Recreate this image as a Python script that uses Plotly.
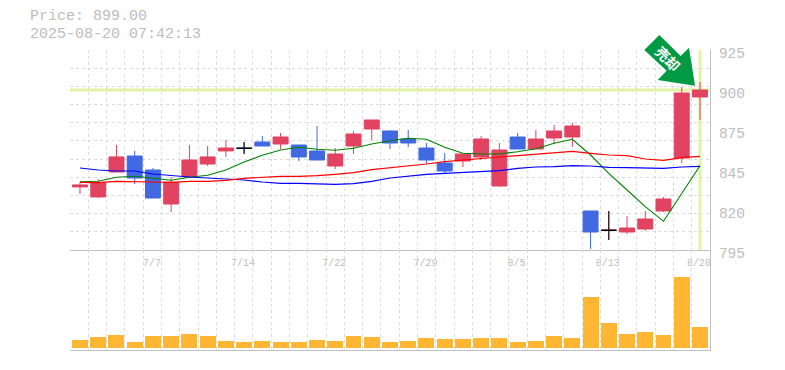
import plotly.graph_objects as go

dates = ["7/1","7/2","7/3","7/4","7/7","7/8","7/9","7/10","7/11","7/14","7/15","7/16","7/17","7/18",
         "7/22","7/23","7/24","7/25","7/28","7/29","7/30","7/31","8/1","8/4","8/5","8/6","8/7","8/8",
         "8/12","8/13","8/14","8/15","8/18","8/19","8/20"]
tick_dates = ["7/7","7/14","7/22","7/29","8/5","8/13","8/20"]

opens  = [836.0,829.5,845.7,856.1,847.0,824.9,842.5,850.9,859.4,861.1,865.2,863.9,863.25,859.35,
          849.6,862.6,873.65,872.35,867.15,861.3,851.55,852.85,855.45,836.6,868.45,860.65,867.8,868.45,
          820.35,807.8,806.7,808.65,820.35,854.8,894.45]
closes = [837.3,838.7,855.5,841.8,828.8,839.0,853.5,855.5,861.3,861.1,862.6,868.45,855.45,853.5,
          857.4,870.4,879.5,864.55,864.55,853.5,846.35,857.4,867.15,860.0,860.65,867.15,872.35,875.6,
          806.7,807.8,809.3,815.15,828.15,897.05,899.0]
highs  = [839.2,841.0,863.3,859.4,848.3,842.5,863.3,862.6,866.5,865.2,869.1,871.05,863.25,875.6,
          861.3,872.35,879.5,873.0,873.0,864.55,858.05,857.4,869.1,864.55,871.05,873.0,876.25,877.55,
          820.35,820.35,817.1,820.35,829.45,900.95,904.2]
lows   = [831.4,828.8,845.7,837.9,828.8,819.7,842.5,849.6,855.5,857.4,862.6,860.65,852.85,853.5,
          847.65,857.4,866.5,860.65,861.95,850.9,844.4,848.95,853.5,835.95,860.65,860.65,863.9,861.95,
          795.65,801.5,805.4,807.35,819.7,851.55,879.5]

line_blue  = [848.3,847.0,846.35,846.35,844.4,843.3,842.45,841.8,841.15,840.5,839.2,838.35,838.35,838.1,
              837.7,838.1,839.65,841.8,843.1,844.2,844.85,845.5,846.15,846.55,848.1,848.95,849.15,849.8,
              849.6,848.75,848.5,848.3,848.1,848.95,849.4]
line_red   = [839.0,838.75,839.65,839.65,839.2,839.0,839.65,839.65,840.3,841.6,842.25,842.9,842.9,843.3,
              844.2,845.25,847.2,848.3,849.6,850.9,852.4,853.5,854.6,855.45,856.3,857.4,858.5,859.15,
              857.85,856.75,856.3,854.15,853.3,855.0,855.9]
line_green = [839.4,839.65,842.25,842.9,841.6,840.3,842.25,843.55,847.0,852.2,856.55,860.0,861.75,860.45,
              859.8,861.1,863.9,866.05,867.6,866.95,861.75,857.85,857.4,857.4,858.9,860.85,864.35,866.95,
              856.75,844.85,834.0,823.15,813.65,831.85,849.8]
volume = [16,22,26,12,24,24,28,24,14,12,14,12,12,16,14,24,22,12,14,20,18,18,20,20,12,14,24,20,
          102,50,28,32,26,142,42]
volume = [v * 1000 for v in volume]

last_price = 899.0
price_ticks = [925, 899, 873, 847, 821, 795]
price_labels = ["925", "900", "875", "845", "820", "795"]
title_lines = ["Price: 899.00", "2025-08-20 07:42:13"]
arrow_text = "売却"

W, H = 785, 370
L, R, T, B = 70, 710, 50, 350
x = list(range(len(dates)))
tick_idx = [dates.index(d) for d in tick_dates]

GRID = "#dcdcdc"
AXIS = "#c0c0c0"
TXT = "#bdbdbd"
FONT = "Liberation Mono"
X0, X1 = -0.548, 34.55


def px(v):
    return (v - L) / (R - L)


def py(v):
    return 1 - (v - T) / (B - T)


fig = go.Figure()
for vals, col, w in [(line_green, "#008000", 1.1), (line_blue, "#0000ff", 1.2), (line_red, "#ff0000", 1.2)]:
    fig.add_trace(go.Scatter(x=x, y=vals, mode="lines", line=dict(color=col, width=w),
                             hoverinfo="skip", xaxis="x", yaxis="y"))

fig.add_trace(go.Candlestick(
    x=x, open=opens, high=highs, low=lows, close=closes, whiskerwidth=0,
    increasing=dict(line=dict(color="#e14361", width=1), fillcolor="#e14361"),
    decreasing=dict(line=dict(color="#4169e1", width=1), fillcolor="#4169e1"),
    xaxis="x", yaxis="y"))

# Doji sessions drawn as black crosses
doji = [i for i in x if opens[i] == closes[i]]
fig.add_trace(go.Candlestick(
    x=doji, open=[opens[i] for i in doji], high=[highs[i] for i in doji],
    low=[lows[i] for i in doji], close=[closes[i] for i in doji], whiskerwidth=0,
    increasing=dict(line=dict(color="#000000", width=1), fillcolor="#000000"),
    decreasing=dict(line=dict(color="#000000", width=1), fillcolor="#000000"),
    xaxis="x", yaxis="y"))

fig.add_trace(go.Bar(x=x, y=volume, marker=dict(color="#ffb733", line=dict(width=0)),
                     width=0.875, xaxis="x2", yaxis="y2"))

minor_x = dict(tick0=X0, dtick=(X1 - X0) / 35, showgrid=True, gridcolor=GRID, griddash="3px,3px",
               gridwidth=1, ticklen=0)
common_x = dict(range=[X0, X1], showgrid=False, zeroline=False, fixedrange=True, minor=minor_x)

fig.update_layout(
    width=W, height=H, autosize=False, showlegend=False, plot_bgcolor="#ffffff", paper_bgcolor="#ffffff",
    margin=dict(l=L, r=W - R, t=T, b=H - B, pad=0, autoexpand=False), bargap=0,
    boxmode="overlay", boxgap=0.18, boxgroupgap=0,
    font=dict(family=FONT, color=TXT),
    xaxis=dict(domain=[0, 1], anchor="y", tickmode="array", tickvals=tick_idx, ticktext=tick_dates,
               ticks="", tickfont=dict(size=10, color=TXT, family=FONT), ticklabelstandoff=3, ticklabelshift=-1,
               rangeslider=dict(visible=False), showline=True, linecolor=AXIS, linewidth=1, **common_x),
    xaxis2=dict(domain=[0, 1], anchor="y2", showticklabels=False, ticks="", tickmode="array", tickvals=tick_idx,
                showline=True, linecolor=AXIS, linewidth=1, **common_x),
    yaxis=dict(domain=[1 / 3, 1], anchor="x", side="right", range=[795, 925], tickmode="array",
               tickvals=price_ticks, ticktext=price_labels, ticks="", showgrid=False, zeroline=False,
               tickfont=dict(size=14.5, color=TXT, family=FONT), ticklabelshift=3, ticklabelstandoff=5,
               showline=True, linecolor=AXIS, linewidth=1, fixedrange=True,
               minor=dict(tick0=795, dtick=130 / 11, showgrid=True, gridcolor=GRID, griddash="3px,3px",
                          gridwidth=1, ticklen=0)),
    yaxis2=dict(domain=[0, 1 / 3], anchor="x2", side="right", range=[-4000, 196000], showticklabels=False,
                ticks="", showgrid=False, zeroline=False, showline=True, linecolor=AXIS, linewidth=1,
                fixedrange=True),
    shapes=[
        dict(type="line", xref="x", yref="y", x0=X0, x1=X1, y0=last_price, y1=last_price,
             line=dict(color="#e2f2a6", width=3), layer="below"),
        dict(type="line", xref="x", yref="y", x0=34, x1=34, y0=795, y1=925,
             line=dict(color="#e2f2a6", width=3), layer="below"),
    ],
    annotations=[
        dict(xref="paper", yref="paper", x=px(28), y=py(17), xanchor="left", yanchor="middle", showarrow=False,
             text=title_lines[0], font=dict(size=15, color=TXT, family=FONT)),
        dict(xref="paper", yref="paper", x=px(28), y=py(34), xanchor="left", yanchor="middle", showarrow=False,
             text=title_lines[1], font=dict(size=15, color=TXT, family=FONT)),
        dict(xref="paper", yref="paper", x=px(667.5), y=py(58.3), xanchor="center", yanchor="middle", showarrow=False,
             text="<b>" + arrow_text + "</b>", textangle=45,
             font=dict(size=14, color="#ffffff", family="Noto Sans CJK JP")),
    ],
)

arrow = [(659.3, 35), (680.7, 56), (689, 47.7), (695, 85.7), (657.7, 80), (666.7, 70.7), (644.3, 50)]
path = "M " + " L ".join(f"{px(a):.4f} {py(b):.4f}" for a, b in arrow) + " Z"
fig.add_shape(type="path", xref="paper", yref="paper", path=path, fillcolor="#009944",
              line=dict(width=0), layer="above")
fig.write_html("out.html", config=dict(displayModeBar=False),
               post_script="document.body.style.margin='0';")
